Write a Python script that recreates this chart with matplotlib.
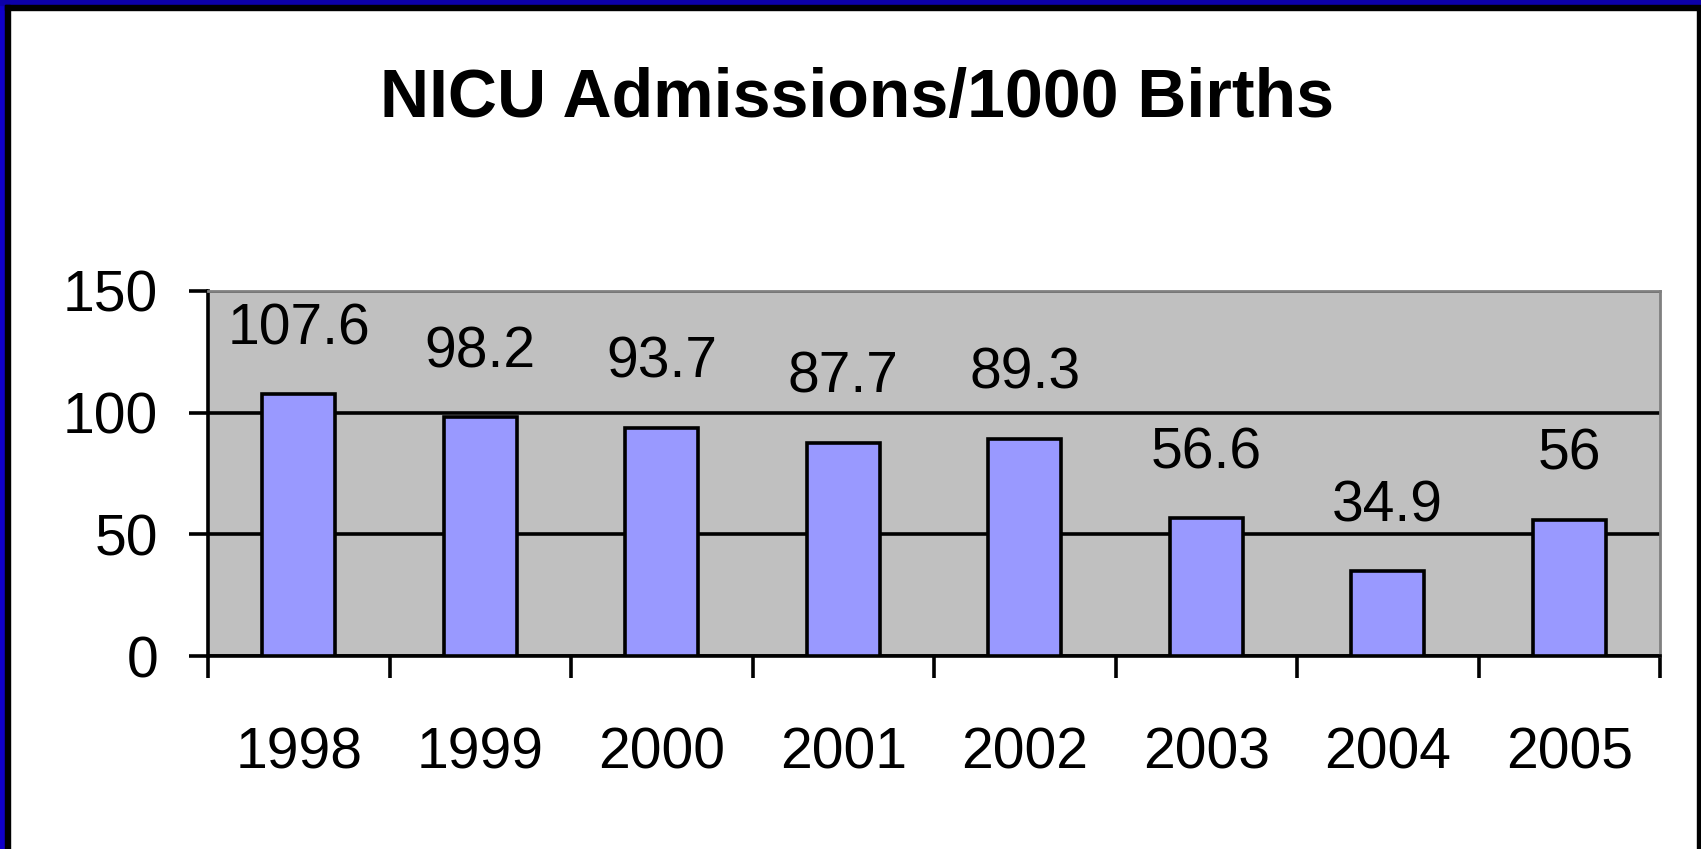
import matplotlib.pyplot as plt
from matplotlib.patches import Rectangle

plt.rcParams['font.family'] = ['Liberation Sans', 'DejaVu Sans']

years = ['1998', '1999', '2000', '2001', '2002', '2003', '2004', '2005']
admissions = [107.6, 98.2, 93.7, 87.7, 89.3, 56.6, 34.9, 56]
labels = ['107.6', '98.2', '93.7', '87.7', '89.3', '56.6', '34.9', '56']

W, H = 1701, 849
fig = plt.figure(figsize=(W / 100, H / 100), dpi=100)
fig.patch.set_facecolor('white')

ax = fig.add_axes([208 / W, 1 - 656 / H, (1660 - 208) / W, (656 - 291) / H])
ax.set_facecolor('#C0C0C0')

x = range(len(years))
ax.bar(x, admissions, width=0.4, color='#9999FF', edgecolor='black',
       linewidth=2.6, zorder=3)

for i, (v, s) in enumerate(zip(admissions, labels)):
    ax.annotate(s, (i, v), xytext=(0, 36), textcoords='offset points',
                ha='center', va='baseline', fontsize=41, zorder=4)

ax.set_xlim(-0.5, len(years) - 0.5)
ax.set_ylim(0, 150)
ax.set_yticks([0, 50, 100, 150])
ax.yaxis.grid(True, color='black', linewidth=2.6, zorder=1)
ax.set_axisbelow(True)

ax.set_xticks(list(x))
ax.set_xticklabels(years)
ax.set_xticks([i - 0.5 for i in range(len(years) + 1)], minor=True)
ax.tick_params(axis='x', which='major', length=0, pad=51, labelsize=41)
ax.tick_params(axis='x', which='minor', length=16, width=2.6, direction='out')
ax.tick_params(axis='y', length=14, width=2.6, direction='out', pad=22,
               labelsize=41)

for side in ['left', 'bottom']:
    ax.spines[side].set_color('black')
    ax.spines[side].set_linewidth(2.6)
for side in ['top', 'right']:
    ax.spines[side].set_color('#808080')
    ax.spines[side].set_linewidth(2.0)

fig.text(857 / W, 1 - 92 / H, 'NICU Admissions/1000 Births', ha='center',
         va='center_baseline', fontsize=49, fontweight='bold')

# frame around the picture
tf = fig.transFigure
fig.add_artist(Rectangle((0, 0), 5 / W, 1, color='#1000C8', transform=tf))
fig.add_artist(Rectangle((0, 1 - 5 / H), 1, 5 / H, color='#0C00A8', transform=tf))
fig.add_artist(Rectangle((5 / W, 0), 5 / W, 1 - 5 / H, color='black', transform=tf))
fig.add_artist(Rectangle((5 / W, 1 - 10 / H), 1, 5 / H, color='black', transform=tf))
fig.add_artist(Rectangle((1697 / W, 0), 4 / W, 1 - 10 / H, color='black', transform=tf))

fig.savefig('out.png', dpi=100)
